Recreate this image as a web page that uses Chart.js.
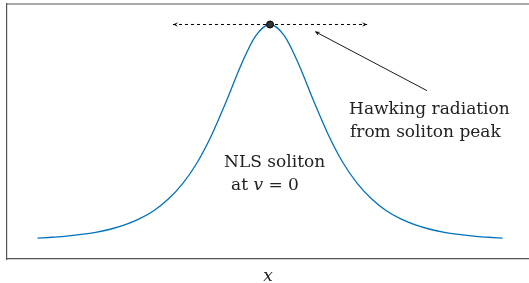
<!DOCTYPE html>
<html>
<head>
<meta charset="utf-8">
<script src="https://cdn.jsdelivr.net/npm/chart.js@4"></script>
<style>
  html, body { margin: 0; padding: 0; background: #fff; overflow: hidden; }
  #wrap { width: 529px; height: 283px; position: relative; }
</style>
</head>
<body>
<div id="wrap"><canvas id="c"></canvas></div>
<script>
// ---- data ----
const xValues = [-8,-7.5,-7,-6.5,-6,-5.5,-5,-4.5,-4,-3.5,-3,-2.5,-2,-1.5,-1,-0.5,0,
                 0.5,1,1.5,2,2.5,3,3.5,4,4.5,5,5.5,6,6.5,7,7.5,8];
const solitonValues = [0.009,0.013,0.018,0.026,0.036,0.050,0.070,0.098,0.136,0.190,0.263,0.361,0.490,0.645,0.811,0.946,1.000,
                       0.946,0.811,0.645,0.490,0.361,0.263,0.190,0.136,0.098,0.070,0.050,0.036,0.026,0.018,0.013,0.009];
const peakPoint = [{ x: 0, y: 1 }];
const peakSpanX = [-3.34, 3.34];          // dashed double arrow at peak level
const pointerFrom = { x: 5.40, y: 0.693 }; // arrow tail (near label)
const pointerTo = { x: 1.55, y: 0.967 };   // arrow head (near peak)
const labels = [
  { parts: [["Hawking radiation", "normal"]], x: 2.72, y: 0.586 },
  { parts: [["from soliton peak", "normal"]], x: 2.75, y: 0.479 },
  { parts: [["NLS soliton", "normal"]], x: -1.58, y: 0.340 },
  { parts: [["at ", "normal"], ["v", "italic"], [" = 0", "normal"]], x: -1.34, y: 0.233 }
];
const xAxisTitle = "x";

const solitonData = xValues.map((x, i) => ({ x: x, y: solitonValues[i] }));

const annotationPlugin = {
  id: 'annot',
  afterDraw(chart) {
    const ctx = chart.ctx, xs = chart.scales.x, ys = chart.scales.y, ca = chart.chartArea;
    ctx.save();
    // top frame line
    ctx.strokeStyle = '#555'; ctx.lineWidth = 1.2;
    ctx.beginPath(); ctx.moveTo(ca.left, ca.top); ctx.lineTo(ca.right, ca.top); ctx.stroke();

    function head(tx, ty, fx, fy) {
      const a = Math.atan2(ty - fy, tx - fx), L = 5, W = 2.3;
      ctx.save();
      ctx.translate(tx, ty); ctx.rotate(a);
      ctx.fillStyle = '#000';
      ctx.beginPath();
      ctx.moveTo(0, 0); ctx.lineTo(-L, -W); ctx.lineTo(-L * 0.6, 0); ctx.lineTo(-L, W);
      ctx.closePath(); ctx.fill();
      ctx.restore();
    }
    const py = ys.getPixelForValue(1);
    const l = xs.getPixelForValue(peakSpanX[0]), r = xs.getPixelForValue(peakSpanX[1]);
    head(l, py, l + 10, py);
    head(r, py, r - 10, py);
    const hx = xs.getPixelForValue(pointerTo.x), hy = ys.getPixelForValue(pointerTo.y);
    const fx = xs.getPixelForValue(pointerFrom.x), fy = ys.getPixelForValue(pointerFrom.y);
    head(hx, hy, fx, fy);

    // text labels
    ctx.fillStyle = '#222';
    ctx.textBaseline = 'alphabetic';
    ctx.textAlign = 'left';
    labels.forEach(lb => {
      let x = xs.getPixelForValue(lb.x);
      const y = ys.getPixelForValue(lb.y);
      lb.parts.forEach(p => {
        ctx.font = (p[1] === 'italic' ? 'italic ' : '') + '17px "DejaVu Serif"';
        ctx.fillText(p[0], x, y);
        x += ctx.measureText(p[0]).width;
      });
    });
    ctx.restore();
  }
};

new Chart(document.getElementById('c'), {
  type: 'line',
  data: {
    datasets: [
      {
        data: peakPoint, order: 0, showLine: false,
        pointRadius: 3.5, pointBackgroundColor: '#333', pointBorderColor: '#000', pointBorderWidth: 1
      },
      {
        data: solitonData, order: 1, borderColor: '#0072BD', borderWidth: 1.3,
        pointRadius: 0, cubicInterpolationMode: 'monotone', fill: false
      },
      {
        data: [{ x: peakSpanX[0], y: 1 }, { x: peakSpanX[1], y: 1 }], order: 2,
        borderColor: '#000', borderWidth: 1, borderDash: [3, 3], pointRadius: 0
      },
      {
        data: [pointerFrom, pointerTo], order: 3,
        borderColor: '#000', borderWidth: 0.9, pointRadius: 0
      }
    ]
  },
  options: {
    responsive: true, maintainAspectRatio: false, animation: false,
    layout: { autoPadding: false, padding: { left: 7, top: 4, right: 0, bottom: 0 } },
    plugins: { legend: { display: false }, tooltip: { enabled: false } },
    scales: {
      x: {
        type: 'linear', min: -9.05, max: 8.91,
        ticks: { display: false }, grid: { display: false, drawTicks: false },
        border: { display: true, color: '#555', width: 1.2 },
        title: { display: true, text: xAxisTitle, color: '#222',
                 font: { family: 'DejaVu Serif', style: 'italic', size: 17, lineHeight: 0.75 }, padding: 0 },
        afterFit(s) { s.height = 24; }
      },
      y: {
        type: 'linear', min: -0.088, max: 1.095,
        ticks: { display: false }, grid: { display: false, drawTicks: false },
        border: { display: true, color: '#555', width: 1.2 },
        afterFit(s) { s.width = 0; }
      }
    }
  },
  plugins: [annotationPlugin]
});
</script>
</body>
</html>
